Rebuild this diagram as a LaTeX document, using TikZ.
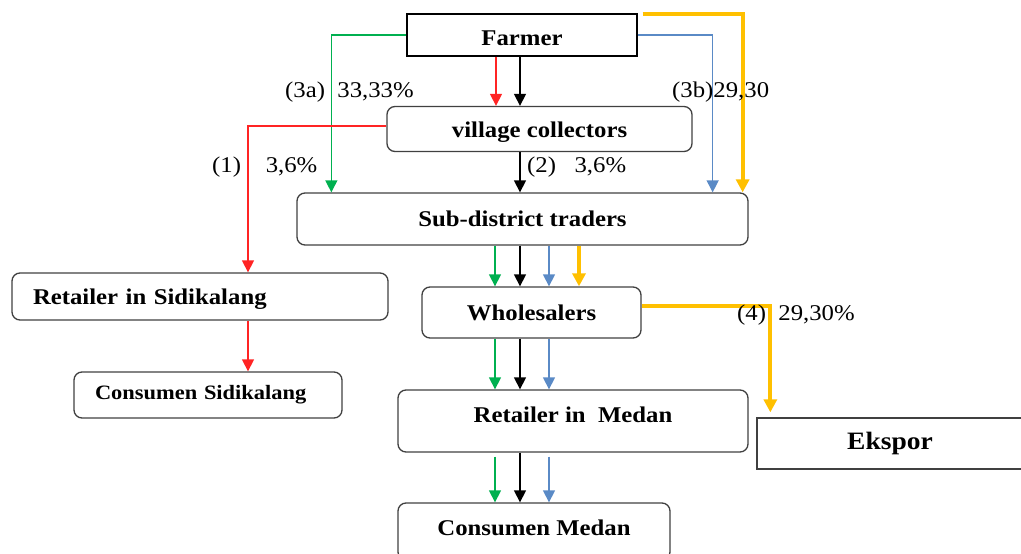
\documentclass[tikz,border=0pt]{standalone}
\usepackage{fontspec}
\setmainfont[FakeStretch=1.1]{Liberation Serif}
\usetikzlibrary{arrows.meta}
\definecolor{FlowGreen}{HTML}{00B050}
\definecolor{FlowRed}{HTML}{FF2424}
\definecolor{FlowBlue}{HTML}{5A8AC6}
\definecolor{FlowGold}{HTML}{FFC000}
\definecolor{BoxInk}{HTML}{404040}
\tikzset{
  chart/.style={x=1pt,y=-1pt,font=\fontsize{22.5}{26}\selectfont},
  stage/.style={draw=BoxInk,line width=1.3pt,rounded corners=8pt,inner sep=0pt,
    font=\fontsize{22.5}{26}\selectfont\bfseries},
  plainstage/.style={stage,rounded corners=0pt,draw=black},
  flow/.style={-{Triangle[length=12pt,width=12pt]},line width=1.3pt},
  export/.style={-{Triangle[length=13pt,width=13pt]},line width=4pt,draw=FlowGold},
  share/.style={anchor=base west,inner sep=0pt},
}
\begin{document}
\begin{tikzpicture}[chart]
  \clip (0,0) rectangle (1021,554);

  % marketing stages
  \node[plainstage,minimum width=230pt,minimum height=42pt,text height=21pt] (farmer) at (522,35) {Farmer};
  \node[stage,minimum width=305pt,minimum height=45pt,text height=21pt] (village) at (539.5,129) {village collectors};
  \node[stage,minimum width=451pt,minimum height=52pt] (sub) at (522.5,219) {Sub-district traders};
  \node[stage,text width=334pt,inner xsep=21pt,minimum height=47pt,align=left,text height=21pt] (retsid) at (200,296.5)
    {Retailer in Sidikalang};
  \node[stage,text width=226pt,inner xsep=21pt,minimum height=46pt,align=left,
    font=\fontsize{20.4}{24}\selectfont\bfseries] (consid) at (208,395) {Consumen Sidikalang};
  \node[stage,minimum width=219pt,minimum height=51pt] (whole) at (531.5,312.5) {Wholesalers};
  \node[stage,minimum width=350pt,minimum height=62pt,text depth=12pt] (retmed) at (573,421)
    {Retailer in~~Medan};
  \node[plainstage,minimum width=266pt,minimum height=51pt,draw=BoxInk,
    font=\fontsize{25}{29}\selectfont\bfseries] (ekspor) at (890,443.5) {Ekspor};
  \node[stage,minimum width=272pt,minimum height=57pt,text depth=7pt] (conmed) at (534,531.5)
    {Consumen Medan};

  % columns of the vertical flows
  \coordinate (colred) at (496,0);
  \coordinate (colblack) at (520,0);
  \coordinate (colsid) at (248,0);
  \coordinate (colgold) at (579,0);

  % farmer
  \draw[flow,FlowGreen] (farmer.west) -| ([xshift=35pt]sub.north west);
  \draw[flow,FlowBlue] (farmer.east) -| ([xshift=-36pt]sub.north east);
  \draw[export] ([xshift=5pt,yshift=-1pt]farmer.north east) -| ([xshift=-6pt]sub.north east);
  \draw[flow,FlowRed] (farmer.south -| colred) -- (village.north -| colred);
  \draw[flow] (farmer.south -| colblack) -- (village.north -| colblack);

  % village collectors
  \draw[flow] (village.south -| colblack) -- (sub.north -| colblack);
  \draw[flow,FlowRed] ([yshift=3pt]village.west) -| (retsid.north -| colsid);
  \draw[flow,FlowRed] (retsid.south -| colsid) -- (consid.north -| colsid);

  % sub-district traders down to Medan
  \foreach \hue/\col/\gap in {FlowGreen/495/4,black/520/0,FlowBlue/549/4}{
    \coordinate (col) at (\col,0);
    \draw[flow,\hue] (sub.south -| col) -- (whole.north -| col);
    \draw[flow,\hue] (whole.south -| col) -- (retmed.north -| col);
    \draw[flow,\hue,shorten <=\gap pt] (retmed.south -| col) -- (conmed.north -| col);
  }
  \draw[export] (sub.south -| colgold) -- (whole.north -| colgold);
  \draw[export,shorten >=5pt] ([yshift=7pt]whole.east) -| ([xshift=14pt]ekspor.north west);

  % shares
  \node[share] (lab3a) at (285,97) {(3a)~~33,33\%};
  \node[share] (lab3b) at (672,97) {(3b)29,30};
  \node[share] (lab1) at (212,172) {(1)~~~~3,6\%};
  \node[share] (lab2) at (527,172) {(2)~~~3,6\%};
  \node[share] (lab4) at (737,320) {(4)~~29,30\%};
\end{tikzpicture}
\end{document}
